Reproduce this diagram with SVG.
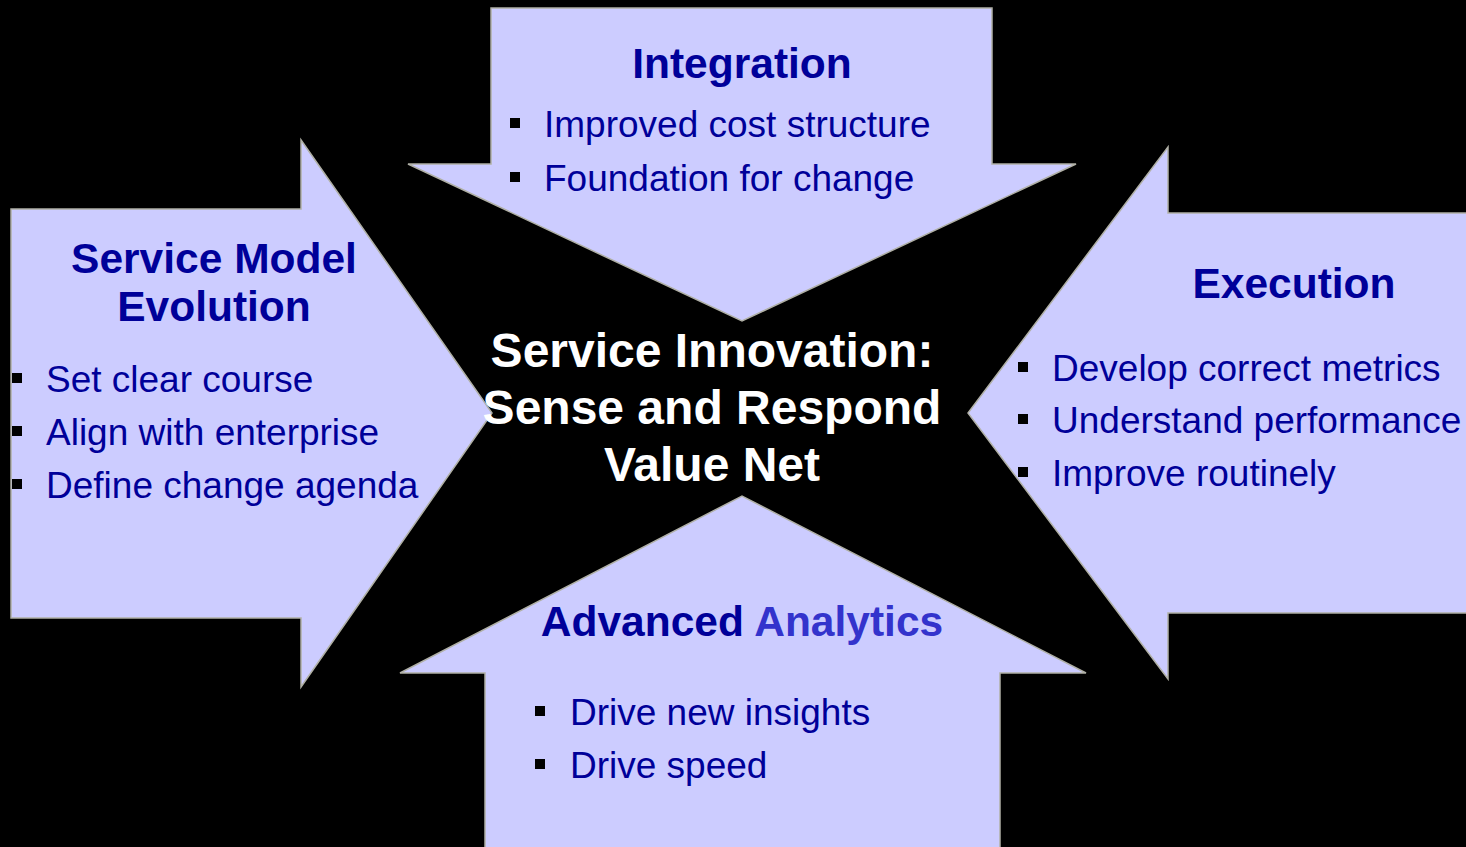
<svg xmlns="http://www.w3.org/2000/svg" width="1466" height="847" viewBox="0 0 1466 847">
  <style>
    .arrow { fill: #ccccff; stroke: #b0b0a6; stroke-width: 1.5; stroke-linejoin: miter; }
    .head { font-family: "Liberation Sans", Arial, sans-serif; font-weight: bold; font-size: 42.5px; fill: #000099; text-anchor: middle; }
    .item { font-family: "Liberation Sans", Arial, sans-serif; font-size: 37px; fill: #000099; }
    .accent { fill: #3333cc; }
    .dot { fill: #000000; }
    .core { font-family: "Liberation Sans", Arial, sans-serif; font-weight: bold; font-size: 48px; fill: #ffffff; text-anchor: middle; }
  </style>
  <rect x="0" y="0" width="1466" height="847" fill="#000000"/>

  <!-- Integration: arrow pointing down -->
  <g id="integration">
    <polygon class="arrow" points="491,8 992,8 992,164 1076,164 742,321 408,164 491,164"/>
    <text class="head" x="742" y="78">Integration</text>
    <rect class="dot" x="510" y="118" width="10" height="10"/>
    <text class="item" x="544" y="137">Improved cost structure</text>
    <rect class="dot" x="510" y="172" width="10" height="10"/>
    <text class="item" x="544" y="191">Foundation for change</text>
  </g>

  <!-- Service Model Evolution: arrow pointing right -->
  <g id="service-model">
    <polygon class="arrow" points="11,209 301,209 301,140 492,413 301,687 301,618 11,618"/>
    <text class="head" x="214" y="273">Service Model</text>
    <text class="head" x="214" y="321">Evolution</text>
    <rect class="dot" x="12" y="373" width="10" height="10"/>
    <text class="item" x="46" y="392">Set clear course</text>
    <rect class="dot" x="12" y="426" width="10" height="10"/>
    <text class="item" x="46" y="445">Align with enterprise</text>
    <rect class="dot" x="12" y="479" width="10" height="10"/>
    <text class="item" x="46" y="498">Define change agenda</text>
  </g>

  <!-- Execution: arrow pointing left -->
  <g id="execution">
    <polygon class="arrow" points="1468,213 1168,213 1168,147 968,413 1168,679 1168,613 1468,613"/>
    <text class="head" x="1294" y="298">Execution</text>
    <rect class="dot" x="1018" y="362" width="10" height="10"/>
    <text class="item" x="1052" y="381">Develop correct metrics</text>
    <rect class="dot" x="1018" y="414" width="10" height="10"/>
    <text class="item" x="1052" y="433">Understand performance</text>
    <rect class="dot" x="1018" y="467" width="10" height="10"/>
    <text class="item" x="1052" y="486">Improve routinely</text>
  </g>

  <!-- Advanced Analytics: arrow pointing up -->
  <g id="analytics">
    <polygon class="arrow" points="485,849 485,673 400,673 742,496 1086,673 1000,673 1000,849"/>
    <text class="head" x="742" y="636">Advanced <tspan class="accent">Analytics</tspan></text>
    <rect class="dot" x="535" y="706" width="10" height="10"/>
    <text class="item" x="570" y="725">Drive new insights</text>
    <rect class="dot" x="535" y="759" width="10" height="10"/>
    <text class="item" x="570" y="778">Drive speed</text>
  </g>

  <!-- Central statement -->
  <g id="center">
    <text class="core" x="712" y="367">Service Innovation:</text>
    <text class="core" x="712" y="424">Sense and Respond</text>
    <text class="core" x="712" y="481">Value Net</text>
  </g>
</svg>
